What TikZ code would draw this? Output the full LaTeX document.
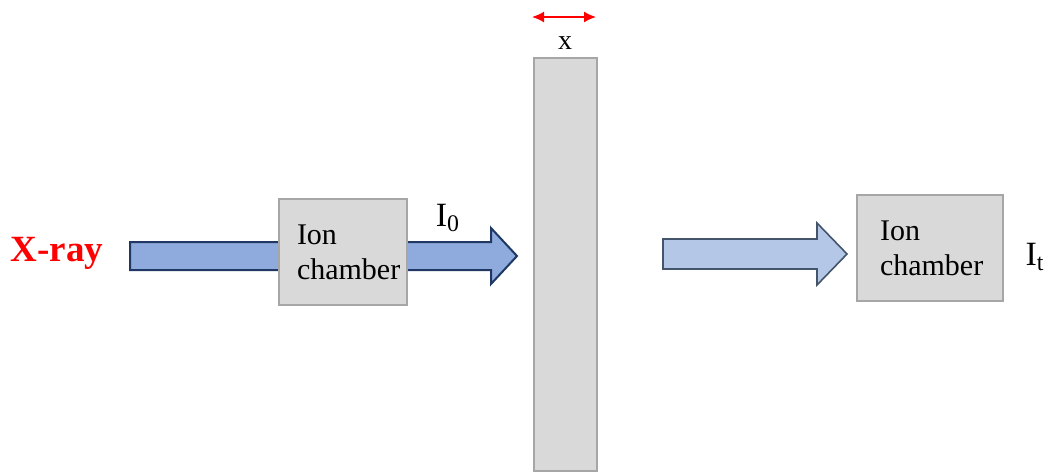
\documentclass[tikz,border=0pt]{standalone}
\usepackage{fontspec}
\setmainfont{Liberation Serif}
\usepackage{tikz}
\usetikzlibrary{shapes,arrows,arrows.meta,positioning}

\definecolor{BeamFill}{HTML}{8FAADC}
\definecolor{BeamLine}{HTML}{1F3864}
\definecolor{OutFill}{HTML}{B4C7E7}
\definecolor{OutLine}{HTML}{44546A}
\definecolor{BoxFill}{HTML}{D9D9D9}
\definecolor{BoxLine}{HTML}{A6A6A6}

\begin{document}
\begin{tikzpicture}[x=0.5pt, y=-0.5pt]
			\tikzstyle{Chamber}	= [draw=BoxLine, fill=BoxFill, line width=1pt, minimum height=53pt, align=left, font=\fontsize{15}{17.5}\selectfont]
			\tikzstyle{Beam}	= [draw=BeamLine, fill=BeamFill, line width=1pt, line join=miter]
			\tikzstyle{Out}		= [draw=OutLine, fill=OutFill, line width=0.8pt, line join=miter]
			\tikzstyle{Label}	= [inner sep=0pt, font=\fontsize{17}{17}\selectfont]

			\useasboundingbox (0,0) rectangle (1049,472);

			% incoming beam, runs behind the first chamber
			\draw [Beam] (130,242) -- (491,242) -- (491,228) -- (517,256) -- (491,284) -- (491,270) -- (130,270) -- cycle;
			% transmitted beam
			\draw [Out] (663,239) -- (817,239) -- (817,223) -- (847,254) -- (817,285) -- (817,269) -- (663,269) -- cycle;

			\node (ic1) at (343,252) [Chamber, text width=46pt, inner xsep=9pt] {Ion\\chamber};
			\node (ic2) at (930,248) [Chamber, text width=50pt, inner xsep=11.5pt] {Ion\\chamber};
			\node (slab) at (565.5,264.5) [draw=BoxLine, fill=BoxFill, line width=1pt, minimum width=31.5pt, minimum height=206.5pt, inner sep=0pt] {};

			\node (xray) at (57,253) [Label, text=red, font=\fontsize{18.5}{18.5}\selectfont\bfseries] {X-ray};
			\node (Izero) at (448,218) [Label] {I\textsubscript{0}};
			\node (It) at (1035,257) [Label] {I\textsubscript{t}};
			\node (xlab) at (565,43) [Label, font=\fontsize{14}{14}\selectfont] {x};

			\coordinate (xl) at (532,17);
			\coordinate (xr) at (596,17);
			\draw [{Latex[length=6pt,width=5.5pt]}-{Latex[length=6pt,width=5.5pt]}, red, line width=0.8pt] (xl) to (xr);
		\end{tikzpicture}
\end{document}
